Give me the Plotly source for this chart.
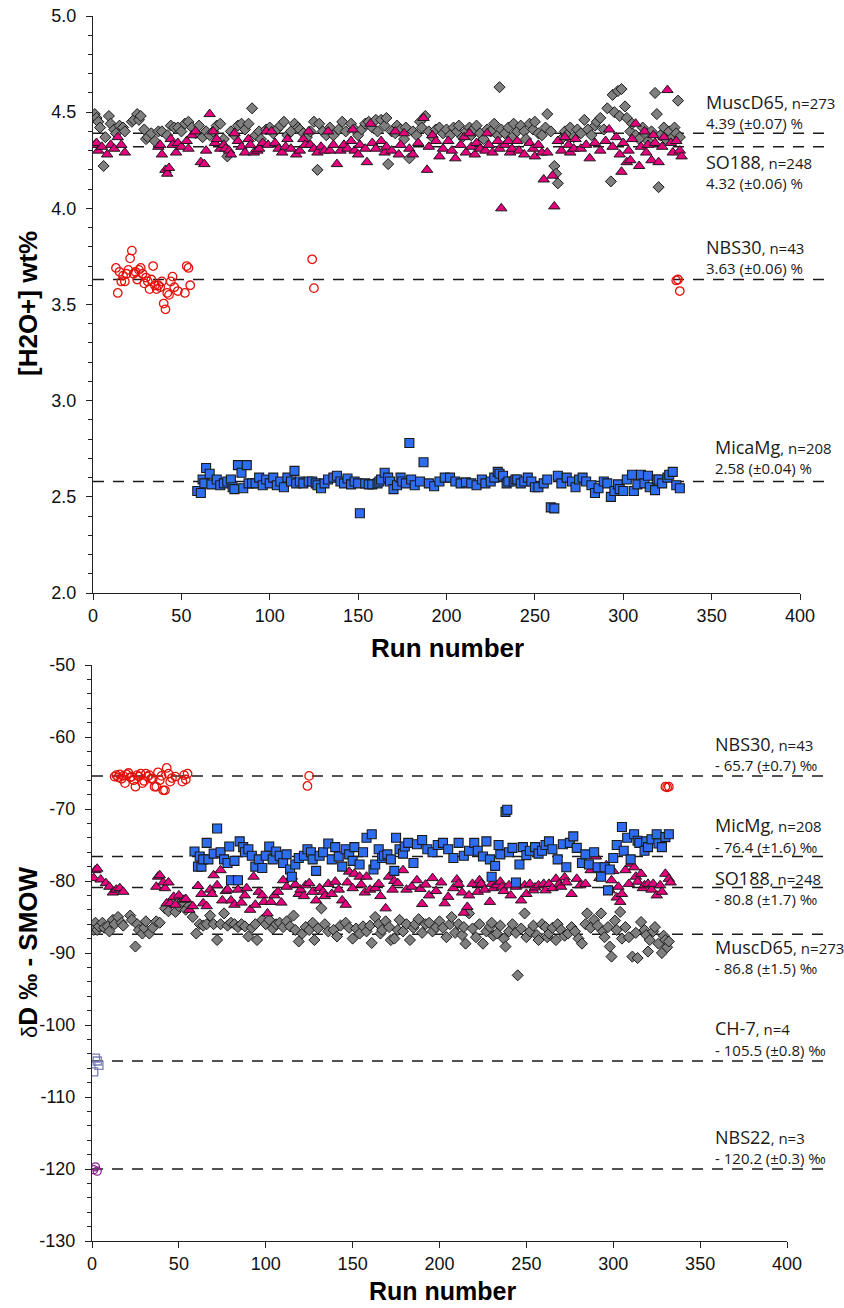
import plotly.graph_objects as go

W, H = 844, 1308

# ---------------- data ----------------
# MuscD65 (grey diamonds): run number, [H2O+] wt%, dD
musc_run = ([1, 2, 3, 4, 6, 7, 9, 10, 12, 13, 15, 17, 18]
            + [22, 23, 25, 26, 27, 29, 30, 31, 33, 35, 37, 39]
            + [42, 44, 46, 48, 50, 52, 54, 56, 58]
            + [60, 62, 64, 66, 68, 70, 72, 74, 76, 78, 80, 82, 84, 86, 88, 90]
            + [92, 94, 95, 98, 100, 102, 104, 106, 108, 110, 112, 114, 116, 117, 119, 121, 123, 125, 127, 128]
            + [130, 132, 134, 136, 139, 141, 143, 146, 148, 150, 152, 154, 156, 158, 160, 161, 163, 165, 166, 167, 169]
            + [171, 172, 174, 176, 177, 179, 181, 183, 185, 186, 188, 190, 192, 194, 196, 198, 200]
            + [202, 204, 206, 207, 209, 211, 213, 214, 215, 217, 219, 221, 223, 225, 227, 229, 230, 231, 233, 235, 237, 238, 240]
            + [242, 244, 245, 247, 249, 250, 252, 254, 256, 257, 259, 261, 262, 263, 265, 267, 268, 270, 272, 274, 276, 278, 280]
            + [282, 284, 285, 287, 289, 291, 293, 294, 295, 297, 298, 299, 301, 302, 304, 305, 307, 309, 311, 313, 314, 316, 318, 319, 320, 321, 323, 324, 326, 328, 329, 330, 331, 332])
musc_h2o = ([4.49, 4.47, 4.45, 4.42, 4.22, 4.37, 4.48, 4.44, 4.41, 4.39, 4.43, 4.42, 4.40]
            + [4.45, 4.46, 4.49, 4.46, 4.48, 4.41, 4.36, 4.37, 4.39, 4.35, 4.40, 4.40]
            + [4.38, 4.43, 4.42, 4.42, 4.40, 4.44, 4.45, 4.42, 4.39]
            + [4.43, 4.37, 4.40, 4.38, 4.40, 4.43, 4.44, 4.36, 4.27, 4.40, 4.38, 4.43, 4.44, 4.41, 4.44, 4.52]
            + [4.38, 4.40, 4.36, 4.41, 4.42, 4.39, 4.41, 4.43, 4.45, 4.38, 4.40, 4.44, 4.42, 4.41, 4.39, 4.37, 4.40, 4.45, 4.20, 4.44]
            + [4.40, 4.38, 4.42, 4.38, 4.41, 4.45, 4.40, 4.44, 4.41, 4.38, 4.41, 4.44, 4.45, 4.42, 4.46, 4.40, 4.46, 4.43, 4.47, 4.23, 4.40]
            + [4.39, 4.43, 4.41, 4.36, 4.42, 4.26, 4.40, 4.38, 4.45, 4.42, 4.48, 4.40, 4.37, 4.41, 4.42, 4.39, 4.41]
            + [4.38, 4.42, 4.40, 4.43, 4.37, 4.40, 4.42, 4.38, 4.41, 4.43, 4.39, 4.36, 4.41, 4.40, 4.44, 4.38, 4.63, 4.41, 4.39, 4.42, 4.37, 4.44, 4.40]
            + [4.43, 4.40, 4.36, 4.44, 4.41, 4.45, 4.39, 4.38, 4.42, 4.49, 4.40, 4.22, 4.18, 4.13, 4.36, 4.40, 4.38, 4.42, 4.37, 4.41, 4.39, 4.46, 4.41]
            + [4.38, 4.43, 4.45, 4.47, 4.41, 4.52, 4.14, 4.59, 4.50, 4.61, 4.48, 4.62, 4.53, 4.47, 4.40, 4.44, 4.38, 4.36, 4.42, 4.39, 4.35, 4.40, 4.60, 4.49, 4.11, 4.38, 4.42, 4.36, 4.40, 4.37, 4.42, 4.39, 4.56, 4.37])
musc_dD = ([-86.8, -85.8, -86.8, -86.3, -85.8, -86.5, -86.3, -87.0, -85.4, -86.0, -85.0, -85.8, -86.2]
           + [-84.8, -85.4, -89.1, -86.0, -86.8, -87.3, -86.5, -85.6, -87.3, -86.5, -85.6, -85.8]
           + [-83.8, -84.2, -83.0, -84.3, -83.5, -82.8, -84.0, -83.4, -85.0]
           + [-87.3, -86.0, -86.2, -86.0, -84.8, -86.0, -88.2, -86.0, -84.5, -86.2, -85.8, -86.0, -86.4, -86.0, -86.3, -87.7]
           + [-86.5, -86.0, -88.2, -85.4, -86.0, -85.4, -86.6, -86.0, -85.8, -86.4, -85.6, -86.3, -84.8, -86.8, -88.4, -87.3, -86.4, -86.8, -85.8, -88.2]
           + [-86.6, -83.8, -86.0, -87.0, -86.8, -87.7, -86.2, -85.8, -86.5, -88.0, -86.6, -87.3, -86.3, -87.0, -86.2, -88.6, -85.0, -86.0, -87.3, -86.8, -85.6]
           + [-86.4, -88.2, -88.0, -86.8, -85.4, -87.0, -86.0, -88.2, -86.5, -86.0, -85.3, -87.2, -86.0, -85.8, -87.0, -86.4, -85.6]
           + [-86.5, -87.8, -86.0, -85.0, -87.2, -86.0, -87.5, -86.4, -88.7, -84.5, -86.6, -87.8, -86.0, -88.7, -87.0, -86.4, -85.8, -87.6, -87.3, -86.2, -88.0, -89.1, -87.0]
           + [-86.0, -87.2, -93.1, -86.6, -84.5, -87.8, -87.0, -86.2, -87.5, -88.2, -86.0, -86.4, -87.8, -87.3, -86.5, -88.2, -86.0, -86.8, -87.6, -87.3, -86.4, -87.0, -88.0]
           + [-88.7, -86.0, -84.5, -86.5, -85.4, -86.2, -84.5, -87.0, -87.8, -86.4, -89.1, -90.5, -85.5, -86.8, -84.3, -88.0, -86.4, -87.8, -90.5, -87.2, -90.7, -85.7, -86.8, -87.5, -89.8, -88.2, -87.0, -86.4, -88.7, -90.0, -87.6, -88.2, -89.2, -88.4])

# SO188 (pink triangles)
so_run = ([1, 2, 3, 5, 8, 10, 12, 14, 16, 18]
          + [37, 38, 39, 41, 42, 43, 44, 45, 47, 48, 50, 53, 54, 56, 58, 61, 63, 64]
          + [66, 68, 69, 70, 72, 74, 75, 77, 78, 80, 82, 84, 86, 88, 89, 91, 93, 94, 96, 98, 99]
          + [101, 103, 105, 107, 109, 110, 112, 115, 117, 119, 120, 122, 123, 125, 127, 129, 131, 133, 134, 136, 138, 140]
          + [142, 144, 146, 147, 148, 150, 151, 154, 155, 157, 158, 160, 163, 165, 166, 169, 171, 173, 174, 176, 179, 181, 184, 187, 189, 190, 192, 194, 196, 198]
          + [201, 203, 205, 208, 210, 211, 213, 214, 216, 217, 219, 222, 223, 224, 226, 229, 230, 231, 233, 235, 236, 237, 240, 241, 244, 247, 249, 250, 252, 254, 255, 257, 260, 261]
          + [263, 265, 267, 269, 270, 272, 273, 276, 279, 281, 284, 287, 290, 292, 294, 296, 298, 299, 300, 302, 303, 304, 305, 307, 309, 310, 312, 313, 314, 316, 317, 318, 320, 322, 323, 325, 327, 328, 330, 332, 333])
so_h2o = ([4.33, 4.34, 4.30, 4.32, 4.28, 4.33, 4.31, 4.37, 4.33, 4.29]
          + [4.32, 4.33, 4.28, 4.20, 4.18, 4.21, 4.36, 4.33, 4.29, 4.34, 4.32, 4.35, 4.31, 4.38, 4.40, 4.24, 4.23, 4.30]
          + [4.49, 4.40, 4.34, 4.36, 4.31, 4.33, 4.31, 4.30, 4.28, 4.39, 4.35, 4.32, 4.29, 4.36, 4.33, 4.29, 4.30, 4.31, 4.34, 4.40, 4.33]
          + [4.40, 4.34, 4.31, 4.29, 4.32, 4.36, 4.31, 4.28, 4.30, 4.36, 4.33, 4.40, 4.33, 4.31, 4.29, 4.32, 4.30, 4.40, 4.30, 4.33, 4.23, 4.30]
          + [4.33, 4.31, 4.35, 4.41, 4.30, 4.28, 4.33, 4.31, 4.24, 4.44, 4.34, 4.31, 4.35, 4.29, 4.32, 4.30, 4.40, 4.28, 4.33, 4.39, 4.31, 4.28, 4.34, 4.47, 4.20, 4.32, 4.38, 4.35, 4.27, 4.31]
          + [4.35, 4.30, 4.26, 4.33, 4.37, 4.29, 4.39, 4.32, 4.28, 4.34, 4.31, 4.30, 4.39, 4.33, 4.29, 4.35, 4.31, 4.00, 4.33, 4.35, 4.29, 4.31, 4.35, 4.30, 4.28, 4.34, 4.31, 4.27, 4.33, 4.29, 4.15, 4.29, 4.17, 4.01]
          + [4.35, 4.30, 4.37, 4.33, 4.29, 4.31, 4.36, 4.31, 4.33, 4.26, 4.34, 4.30, 4.35, 4.41, 4.32, 4.37, 4.28, 4.19, 4.34, 4.24, 4.30, 4.25, 4.36, 4.44, 4.22, 4.32, 4.40, 4.29, 4.33, 4.25, 4.38, 4.34, 4.24, 4.32, 4.37, 4.615, 4.34, 4.29, 4.35, 4.30, 4.27])
so_dD = ([-79.6, -78.5, -78.3, -79.8, -80.3, -80.8, -81.6, -81.2, -81.0, -81.5]
         + [-80.8, -79.4, -79.2, -80.2, -81.0, -83.1, -80.2, -83.1, -82.2, -83.3, -82.0, -82.6, -82.5, -84.0, -83.5, -80.7, -81.8, -83.1]
         + [-83.5, -81.2, -81.8, -79.2, -80.6, -78.5, -82.7, -81.4, -81.2, -82.7, -83.3, -81.2, -83.0, -82.0, -81.0, -84.0, -79.4, -83.3, -81.5, -82.0, -82.9]
         + [-84.5, -82.9, -82.0, -81.5, -83.0, -79.9, -80.8, -79.4, -80.5, -81.8, -81.2, -82.1, -80.6, -80.3, -81.5, -82.7, -81.0, -81.5, -82.1, -80.4, -81.8, -80.1]
         + [-81.2, -82.7, -83.3, -80.2, -78.7, -81.0, -79.0, -79.4, -80.5, -81.6, -79.4, -81.2, -81.0, -80.4, -82.1, -83.8, -79.4, -81.2, -80.0, -80.3, -78.5, -81.2, -80.8, -79.9, -81.1, -83.2, -80.5, -82.0, -79.6, -81.4]
         + [-80.2, -83.1, -82.2, -81.0, -79.8, -80.4, -81.6, -84.4, -83.6, -82.0, -80.4, -81.5, -79.9, -80.4, -81.2, -82.9, -80.4, -81.0, -80.6, -80.1, -80.8, -81.4, -80.6, -82.0, -80.8, -82.7, -80.6, -81.8, -80.4, -81.3, -80.9, -80.6, -80.4, -81.3]
         + [-80.4, -81.0, -79.7, -80.4, -80.8, -79.5, -80.2, -81.8, -79.7, -80.6, -80.4, -78.5, -76.6, -79.6, -78.1, -77.8, -81.3, -79.9, -78.6, -82.3, -80.8, -82.9, -81.8, -78.5, -80.4, -77.6, -78.1, -79.4, -80.1, -79.0, -81.0, -80.6, -80.4, -81.2, -80.4, -82.0, -80.6, -81.5, -79.0, -79.7, -80.2])

# MicaMg (blue squares)
mica_run = ([59, 61, 62, 63, 64, 66, 67, 70, 72, 74, 76, 78, 79, 80, 82, 84, 85, 87, 88, 90, 92, 94, 96, 98, 100]
            + [102, 104, 106, 108, 110, 112, 114, 115, 117, 119, 122, 124, 126, 127, 129, 131, 133, 136, 138, 140, 142, 144, 146, 148, 150, 151]
            + [154, 156, 158, 161, 162, 163, 165, 167, 168, 170, 172, 174, 175, 177, 179, 180, 182, 185, 187, 190, 193, 196, 199]
            + [202, 205, 208, 211, 214, 217, 220, 222, 225, 227, 229, 230, 232, 234, 235, 238, 239, 240, 242, 244, 246, 248, 250, 252, 255, 257, 259, 261]
            + [263, 265, 268, 271, 273, 275, 277, 279, 282, 284, 286, 289, 291, 293, 295, 297, 298, 300, 302, 305, 306, 308, 310, 312, 314, 315, 318, 319, 320, 322, 325, 326, 328, 330, 332])
mica_h2o = ([2.53, 2.52, 2.59, 2.57, 2.65, 2.62, 2.565, 2.59, 2.56, 2.57, 2.58, 2.59, 2.55, 2.54, 2.665, 2.625, 2.545, 2.665, 2.57, 2.57, 2.57, 2.60, 2.56, 2.59, 2.57]
            + [2.60, 2.56, 2.58, 2.55, 2.60, 2.58, 2.635, 2.57, 2.58, 2.57, 2.58, 2.58, 2.57, 2.56, 2.545, 2.57, 2.59, 2.60, 2.61, 2.58, 2.57, 2.595, 2.565, 2.58, 2.57, 2.415]
            + [2.57, 2.565, 2.565, 2.57, 2.58, 2.59, 2.625, 2.60, 2.58, 2.54, 2.56, 2.60, 2.58, 2.57, 2.78, 2.59, 2.56, 2.58, 2.68, 2.57, 2.555, 2.58, 2.60]
            + [2.60, 2.58, 2.57, 2.575, 2.57, 2.56, 2.59, 2.57, 2.58, 2.60, 2.63, 2.62, 2.61, 2.57, 2.58, 2.58, 2.59, 2.59, 2.57, 2.58, 2.60, 2.58, 2.55, 2.55, 2.57, 2.59, 2.445, 2.44]
            + [2.61, 2.57, 2.60, 2.58, 2.55, 2.59, 2.60, 2.58, 2.56, 2.52, 2.545, 2.58, 2.57, 2.50, 2.53, 2.565, 2.54, 2.53, 2.59, 2.615, 2.53, 2.565, 2.615, 2.57, 2.61, 2.55, 2.535, 2.59, 2.59, 2.57, 2.60, 2.615, 2.63, 2.56, 2.545])
mica_dD = ([-75.9, -78.0, -76.6, -78.0, -77.0, -74.7, -77.0, -76.2, -72.7, -76.0, -77.0, -77.5, -75.2, -79.9, -77.2, -79.9, -74.5, -75.3, -76.0, -75.6, -76.5, -78.0, -77.0, -78.2, -76.5]
           + [-75.2, -77.0, -75.9, -76.5, -77.5, -76.3, -78.4, -79.4, -77.7, -76.8, -76.5, -75.6, -76.0, -77.0, -78.6, -76.5, -76.0, -74.8, -77.0, -75.3, -76.6, -78.0, -75.6, -76.3, -77.2, -75.3]
           + [-77.7, -76.0, -74.0, -73.5, -78.4, -77.7, -75.6, -76.8, -76.5, -76.3, -77.0, -78.6, -74.0, -75.6, -76.2, -75.2, -74.7, -77.5, -74.9, -74.3, -75.6, -76.0, -75.0]
           + [-74.7, -75.6, -76.8, -74.7, -76.5, -75.8, -74.7, -75.8, -76.6, -74.5, -77.0, -79.4, -77.9, -75.0, -76.3, -70.4, -70.1, -76.0, -75.4, -80.2, -77.7, -75.3, -76.4, -75.8, -75.3, -76.2, -75.8, -75.0]
           + [-74.5, -75.6, -77.0, -74.9, -78.1, -74.7, -73.8, -75.4, -77.5, -76.3, -77.7, -76.0, -78.1, -79.4, -78.1, -81.3, -78.4, -76.8, -75.0, -72.5, -75.8, -74.0, -77.0, -73.5, -74.4, -74.7, -75.8, -74.5, -75.3, -74.2, -73.5, -74.8, -75.3, -73.9, -73.5])

# NBS30 (red open circles)
nbs30_run = [13, 14, 15, 16, 17, 18, 19, 20, 21, 22, 23, 24, 25, 26, 27, 28, 29, 30, 31, 32,
             33, 34, 35, 36, 37, 38, 39, 40, 41, 42, 43, 44, 45, 46, 48, 52, 53, 54, 55,
             124, 125, 330, 331, 332]
nbs30_h2o = [3.69, 3.56, 3.67, 3.62, 3.65, 3.62, 3.66, 3.68, 3.74, 3.78, 3.66, 3.67, 3.63, 3.68, 3.69, 3.66, 3.61, 3.64, 3.62, 3.58,
             3.63, 3.70, 3.60, 3.58, 3.60, 3.59, 3.62, 3.505, 3.475, 3.56, 3.55, 3.62, 3.645, 3.59, 3.57, 3.56, 3.70, 3.69, 3.60,
             3.735, 3.585, 3.625, 3.63, 3.57]
nbs30_dD = [-65.5, -65.3, -65.6, -65.2, -65.8, -65.4, -66.4, -65.2, -65.0, -65.6, -65.5, -66.0, -66.9, -65.3, -65.5, -65.1, -66.4, -66.1, -65.1, -65.5,
            -65.3, -65.8, -65.8, -66.9, -66.9, -64.9, -66.0, -65.4, -67.4, -67.4, -64.3, -65.1, -66.2, -65.7, -65.5, -66.2, -65.3, -65.9, -65.1,
            -66.8, -65.4, -66.9, -67.0, -66.9]

# CH-7 and NBS22 (dD only)
ch7_run = [1, 2, 3, 4]
ch7_dD = [-106.5, -104.6, -105.0, -105.6]
nbs22_run = [1, 2, 3]
nbs22_dD = [-120.1, -119.7, -120.3]

# mean lines
h2o_means = [4.39, 4.32, 3.63, 2.58]
dD_means = [-65.4, -76.6, -80.9, -87.4, -105.0, -120.0]

# tick labels
x_ticks = [0, 50, 100, 150, 200, 250, 300, 350, 400]
h2o_ticks = [2.0, 2.5, 3.0, 3.5, 4.0, 4.5, 5.0]
h2o_ticktext = ["2.0", "2.5", "3.0", "3.5", "4.0", "4.5", "5.0"]
dD_ticks = [-130, -120, -110, -100, -90, -80, -70, -60, -50]
dD_ticktext = ["-130", "-120", "-110", "-100", "-90", "-80", "-70", "-60", "-50"]

# labels: (name, n text, value text)
h2o_labels = [("MuscD65", ", n=273", "4.39 (±0.07) %"),
              ("SO188", ", n=248", "4.32 (±0.06) %"),
              ("NBS30", ", n=43", "3.63 (±0.06) %"),
              ("MicaMg", ", n=208", "2.58 (±0.04) %")]
dD_labels = [("NBS30", ", n=43", "- 65.7 (±0.7) ‰"),
             ("MicMg", ", n=208", "- 76.4 (±1.6) ‰"),
             ("SO188", ", n=248", "- 80.8 (±1.7) ‰"),
             ("MuscD65", ", n=273", "- 86.8 (±1.5) ‰"),
             ("CH-7", ", n=4", "- 105.5 (±0.8) ‰"),
             ("NBS22", ", n=3", "- 120.2 (±0.3) ‰")]

# ---------------- layout geometry (pixels) ----------------
def px(x):
    return x / W

def py(y):
    return 1 - y / H

TOP = dict(x0=93, x1=800, y0=16, y1=593)
BOT = dict(x0=92, x1=787, y0=665, y1=1241)
LINE_END = 827

GREY = "#7f7f7f"
PINK = "#e5007e"
BLUE = "#2f6df0"
RED = "#e3120b"
EDGE = "#1a1a1a"

fig = go.Figure()

def add_sets(xa, ya, show_dd):
    fig.add_trace(go.Scatter(x=musc_run, y=(musc_dD if show_dd else musc_h2o), mode="markers",
                             marker=dict(symbol="diamond", size=8.5, color=GREY, line=dict(color=EDGE, width=1)),
                             xaxis=xa, yaxis=ya, showlegend=False))
    fig.add_trace(go.Scatter(x=so_run, y=(so_dD if show_dd else so_h2o), mode="markers",
                             marker=dict(symbol="triangle-up", size=10, color=PINK, line=dict(color=EDGE, width=1)),
                             xaxis=xa, yaxis=ya, showlegend=False))
    fig.add_trace(go.Scatter(x=mica_run, y=(mica_dD if show_dd else mica_h2o), mode="markers",
                             marker=dict(symbol="square", size=9, color=BLUE, line=dict(color=EDGE, width=1.1)),
                             xaxis=xa, yaxis=ya, showlegend=False))
    fig.add_trace(go.Scatter(x=nbs30_run, y=(nbs30_dD if show_dd else nbs30_h2o), mode="markers",
                             marker=dict(symbol="circle-open", size=8.5, color=RED, line=dict(width=1.3)),
                             xaxis=xa, yaxis=ya, showlegend=False))

add_sets("x", "y", False)
add_sets("x2", "y2", True)
fig.add_trace(go.Scatter(x=ch7_run, y=ch7_dD, mode="markers",
                         marker=dict(symbol="square-open", size=8, color="#7b7fb8", line=dict(width=1.3)),
                         xaxis="x2", yaxis="y2", showlegend=False))
fig.add_trace(go.Scatter(x=nbs22_run, y=nbs22_dD, mode="markers",
                         marker=dict(symbol="circle-open", size=8, color="#8b1f8f", line=dict(width=1.3)),
                         xaxis="x2", yaxis="y2", showlegend=False))

# dashed mean lines
for v in h2o_means:
    fig.add_shape(type="line", xref="paper", yref="y", x0=px(TOP["x0"]), x1=px(LINE_END), y0=v, y1=v,
                  line=dict(color="#1a1a1a", width=1.5, dash="11px,9px"), layer="below")
for v in dD_means:
    fig.add_shape(type="line", xref="paper", yref="y2", x0=px(BOT["x0"]), x1=px(LINE_END), y0=v, y1=v,
                  line=dict(color="#1a1a1a", width=1.5, dash="11px,9px"), layer="below")

LABEL_FONT = "Open Sans, Noto Sans, sans-serif"

def add_label(x, y1, y2, lab):
    name, n, val = lab
    fig.add_annotation(xref="paper", yref="paper", x=px(x), y=py(y1), xanchor="left", yanchor="middle",
                       text=f"{name}<span style='font-size:15px'>{n}</span>", showarrow=False,
                       font=dict(family=LABEL_FONT, size=18, color="#1a1a1a"))
    fig.add_annotation(xref="paper", yref="paper", x=px(x), y=py(y2), xanchor="left", yanchor="middle",
                       text=val, showarrow=False, font=dict(family=LABEL_FONT, size=15, color="#1a1a1a"))

top_label_pos = [(704, 102, 123), (704, 162, 183), (704, 247, 268), (713, 447, 468)]
for (x, a, b), lab in zip(top_label_pos, h2o_labels):
    add_label(x, a, b, lab)
bot_label_pos = [(713, 744, 765), (713, 825, 847), (713, 878, 899), (713, 947, 968), (713, 1028, 1050), (713, 1137, 1158)]
for (x, a, b), lab in zip(bot_label_pos, dD_labels):
    add_label(x, a, b, lab)

# axis titles
TITLE_FONT = dict(family="Liberation Sans, Arial, sans-serif", size=26, color="#000")
fig.add_annotation(xref="paper", yref="paper", x=px(28), y=py(304), text="<b>[H2O+] wt%</b>", textangle=-90,
                   showarrow=False, font=TITLE_FONT, xanchor="center", yanchor="middle")
fig.add_annotation(xref="paper", yref="paper", x=px(447), y=py(648), text="<b>Run number</b>",
                   showarrow=False, font=TITLE_FONT, xanchor="center", yanchor="middle")
fig.add_annotation(xref="paper", yref="paper", x=px(28), y=py(952),
                   text="<span style='font-size:22px'>δ</span><b>D ‰ - SMOW</b>", textangle=-90,
                   showarrow=False, font=TITLE_FONT, xanchor="center", yanchor="middle")
fig.add_annotation(xref="paper", yref="paper", x=px(442), y=py(1291),
                   text="<b>Run number</b>",
                   showarrow=False, font=dict(family="Liberation Sans, Arial, sans-serif", size=25, color="#000"),
                   xanchor="center", yanchor="middle")

TICK_FONT = dict(family="Liberation Sans, Arial, sans-serif", size=18, color="#111")
common_x = dict(range=[0, 400], tickmode="array", tickvals=x_ticks, ticktext=[str(v) for v in x_ticks],
                ticks="outside", ticklen=6, tickwidth=1.3, tickcolor="#222", showline=True, linecolor="#222",
                linewidth=1.3, showgrid=False, zeroline=False, tickfont=TICK_FONT, automargin=False)
common_y = dict(ticks="outside", ticklen=6, tickwidth=1.3, tickcolor="#222", showline=True, linecolor="#222",
                linewidth=1.3, showgrid=False, zeroline=False, tickfont=TICK_FONT, ticklabelstandoff=6,
                automargin=False, tickmode="array")

fig.update_layout(
    width=W, height=H, margin=dict(l=0, r=0, t=0, b=0, autoexpand=False),
    paper_bgcolor="white", plot_bgcolor="white", showlegend=False,
    xaxis=dict(domain=[px(TOP["x0"]), px(TOP["x1"])], anchor="y", **common_x),
    yaxis=dict(domain=[py(TOP["y1"]), py(TOP["y0"])], anchor="x", range=[2, 5],
               tickvals=h2o_ticks, ticktext=h2o_ticktext,
               minor=dict(tickmode="linear", tick0=2, dtick=0.1, ticks="outside", ticklen=4, tickcolor="#222", tickwidth=1),
               **common_y),
    xaxis2=dict(domain=[px(BOT["x0"]), px(BOT["x1"])], anchor="y2", **common_x),
    yaxis2=dict(domain=[py(BOT["y1"]), py(BOT["y0"])], anchor="x2", range=[-130, -50],
                tickvals=dD_ticks, ticktext=dD_ticktext,
                minor=dict(tickmode="linear", tick0=-130, dtick=2, ticks="outside", ticklen=4, tickcolor="#222", tickwidth=1),
                **common_y),
)

fig.write_html("out.html", config={"displayModeBar": False},
               post_script="document.body.style.margin='0';document.body.style.padding='0';")
